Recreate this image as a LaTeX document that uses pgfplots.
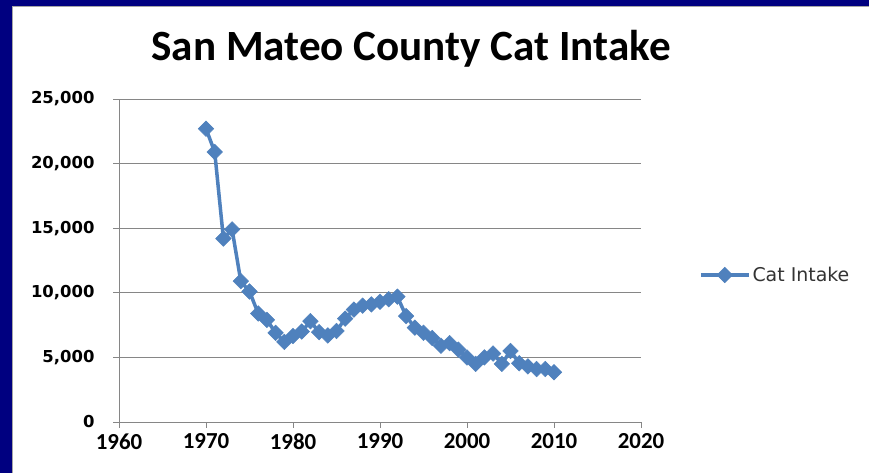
\documentclass[border=0pt]{standalone}
\usepackage{pgfplots}
\pgfplotsset{compat=1.18}
\usepackage{fontspec}
\setmainfont{Carlito}
\newfontfamily\dejavu{DejaVu Sans}
\definecolor{navyframe}{HTML}{000080}
\definecolor{excelblue}{HTML}{4F81BD}
\definecolor{gridgray}{HTML}{868686}
\definecolor{legtext}{HTML}{333333}
\begin{document}
\begin{tikzpicture}[x=1bp,y=1bp]
\useasboundingbox (0,0) rectangle (869,473);
\fill[navyframe] (0,0) rectangle (869,473);
\fill[white] (12,0) rectangle (869,466);
\draw[gray!70, line width=1bp] (12,0) -- (12,466) -- (869,466);
\node[font=\bfseries\fontsize{43.3}{43.3}\selectfont] at (411,424) {San Mateo County Cat Intake};
\begin{axis}[
  at={(119bp,51bp)}, anchor=south west,
  scale only axis, width=522bp, height=323bp,
  xmin=1960, xmax=2020, ymin=0, ymax=25000,
  xtick={1960,1970,...,2020}, ytick={0,5000,...,25000},
  axis lines*=left,
  axis line style={gridgray, line width=0.8bp},
  tick style={gridgray, line width=0.8bp},
  tick align=outside, major tick length=6bp,
  ymajorgrids, grid style={gridgray, line width=0.8bp},
  scaled y ticks=false,
  /pgf/number format/assume math mode=true,
  xticklabel style={/pgf/number format/1000 sep={}, font=\bfseries\fontsize{23}{23}\selectfont, yshift=-2bp},
  yticklabel style={/pgf/number format/1000 sep={,}, font=\dejavu\bfseries\fontsize{16.5}{16.5}\selectfont, xshift=-15bp},
  legend style={at={(1.257,0.455)}, anchor=center, draw=none, fill=none,
    font=\dejavu\fontsize{19}{19}\selectfont, text=legtext},
  legend image code/.code={\draw[mark repeat=2,mark phase=2,#1] plot coordinates {(0bp,0bp) (24bp,0bp) (48bp,0bp)};},
]
\addplot[excelblue, line width=3.5bp, mark=square*, mark size=5.5bp,
  mark options={rotate=45, fill=excelblue, draw=excelblue, line width=0.5bp}]
coordinates {
(1970,22700) (1971,20900) (1972,14200) (1973,14900) (1974,10900)
(1975,10100) (1976,8400) (1977,7900) (1978,6900) (1979,6200)
(1980,6650) (1981,7000) (1982,7800) (1983,6950) (1984,6700)
(1985,7050) (1986,8000) (1987,8700) (1988,9000) (1989,9100)
(1990,9300) (1991,9500) (1992,9700) (1993,8200) (1994,7300)
(1995,6900) (1996,6500) (1997,5900) (1998,6100) (1999,5600)
(2000,5000) (2001,4500) (2002,5000) (2003,5300) (2004,4500)
(2005,5500) (2006,4550) (2007,4300) (2008,4100) (2009,4100)
(2010,3850)
};
\addlegendentry{Cat Intake}
\end{axis}
\end{tikzpicture}
\end{document}
